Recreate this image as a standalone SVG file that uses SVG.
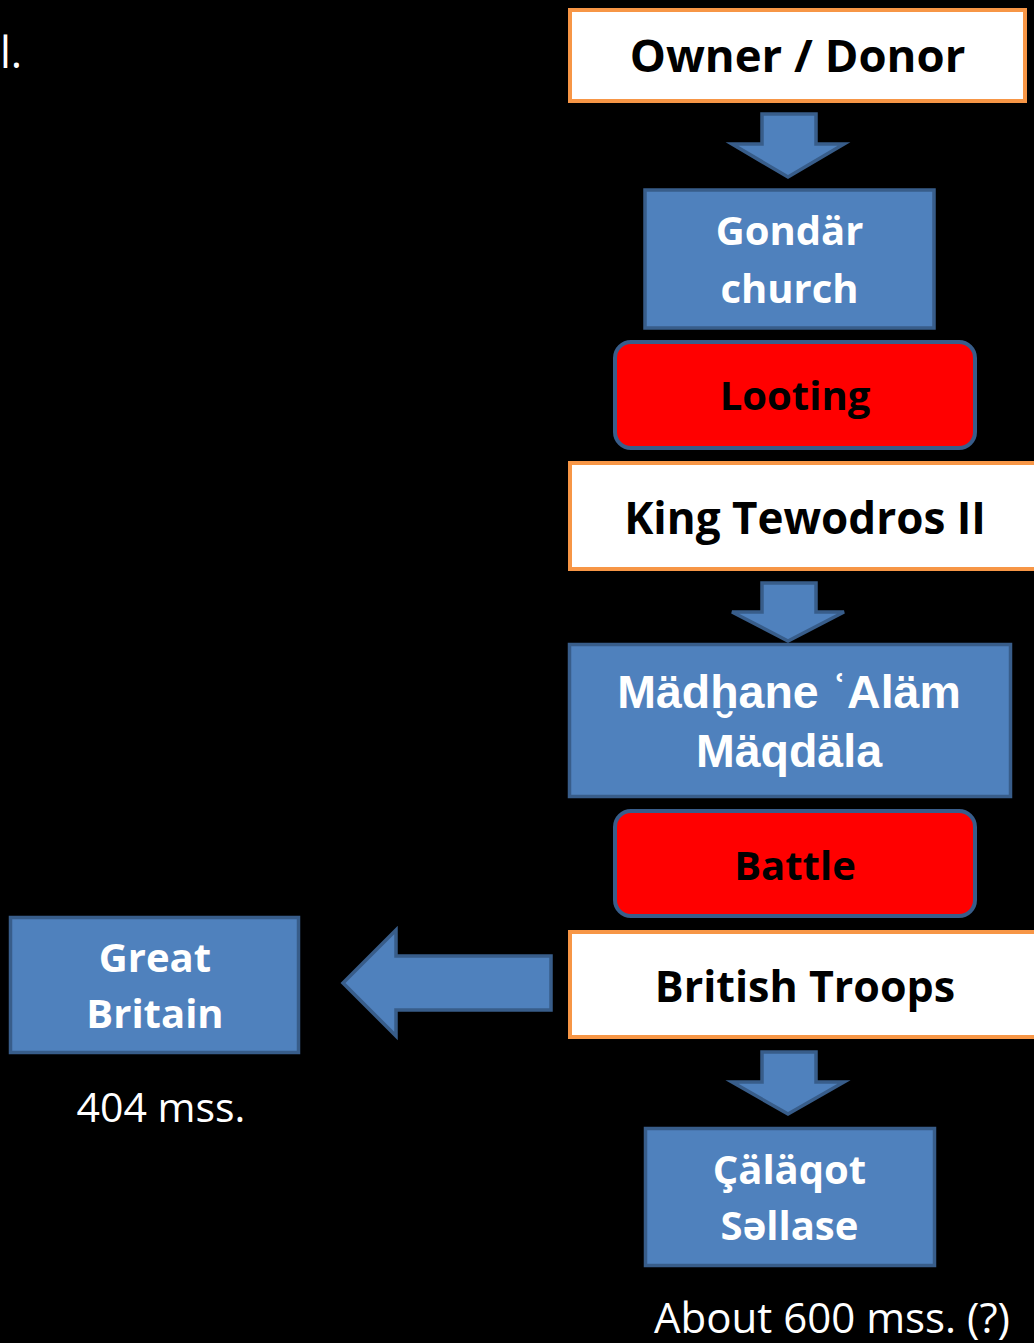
<svg xmlns="http://www.w3.org/2000/svg" width="1034" height="1343" viewBox="0 0 1034 1343">
<style>
.white{fill:#FFFFFF;stroke:#F79646;stroke-width:4}
.blue{fill:#4F81BD;stroke:#385D8A;stroke-width:3.5}
.red{fill:#FF0000;stroke:#385D8A;stroke-width:4}
.arrow{fill:#4F81BD;stroke:#385D8A;stroke-width:3.5;stroke-linejoin:miter}
.tb{font-family:"Open Sans","Noto Sans",sans-serif;font-weight:bold;text-anchor:middle}
.tk{fill:#000000}
.tw{fill:#FFFFFF}
.tr{font-family:"Open Sans","Noto Sans",sans-serif;fill:#FFFFFF}
</style>
<rect x="0" y="0" width="1034" height="1343" fill="#000000"/>
<text class="tr" x="0" y="68" font-size="43">l.</text>
<g id="connectors">
<polygon class="arrow" points="762,114 816,114 816,144 844,144 788,177 732,144 762,144"/>
<polygon class="arrow" points="762,583 816,583 816,612 844,612 788,641 732,612 762,612"/>
<polygon class="arrow" points="762,1052 816,1052 816,1082 844,1082 788,1114 732,1082 762,1082"/>
<polygon class="arrow" points="551,956 551,1010 396,1010 396,1036 343,983 396,930 396,956"/>
</g>
<g id="owner">
<rect class="white" x="570" y="10" width="455" height="91"/>
<text class="tb tk" x="797.5" y="72" font-size="45.5">Owner / Donor</text>
</g>
<g id="gondar">
<rect class="blue" x="645" y="190" width="289" height="138"/>
<text class="tb tw" x="789.5" y="245" font-size="40">Gondär</text>
<text class="tb tw" x="789.5" y="303" font-size="40">church</text>
</g>
<g id="looting">
<rect class="red" x="615" y="342" width="360" height="106" rx="16"/>
<text class="tb tk" x="795" y="410" font-size="40">Looting</text>
</g>
<g id="tewodros">
<rect class="white" x="570" y="463" width="470" height="106"/>
<text class="tb tk" x="805" y="534" font-size="44">King Tewodros II</text>
</g>
<g id="madhane">
<rect class="blue" x="569.5" y="644.5" width="441" height="152"/>
<text x="789" y="708" font-size="46.5" font-family="'Liberation Sans','DejaVu Sans',sans-serif" font-weight="bold" fill="#FFFFFF" text-anchor="middle">Mädḫane ʿAläm</text>
<text x="789" y="767" font-size="46.5" font-family="'Liberation Sans','DejaVu Sans',sans-serif" font-weight="bold" fill="#FFFFFF" text-anchor="middle">Mäqdäla</text>
</g>
<g id="battle">
<rect class="red" x="615" y="811" width="360" height="105" rx="16"/>
<text class="tb tk" x="795" y="880" font-size="40">Battle</text>
</g>
<g id="british">
<rect class="white" x="570" y="932" width="470" height="105"/>
<text class="tb tk" x="805" y="1002" font-size="43">British Troops</text>
</g>
<g id="greatbritain">
<rect class="blue" x="10.5" y="917.5" width="288" height="135"/>
<text class="tb tw" x="155" y="972" font-size="40">Great</text>
<text class="tb tw" x="155" y="1028" font-size="40">Britain</text>
</g>
<g id="calaqot">
<rect class="blue" x="645.5" y="1128.5" width="289" height="137"/>
<text class="tb tw" x="789.5" y="1184" font-size="40">Çäläqot</text>
<text class="tb tw" x="789.5" y="1240" font-size="40">Səllase</text>
</g>
<text class="tr" x="161" y="1122" font-size="41" text-anchor="middle">404 mss.</text>
<text class="tr" x="832" y="1333" font-size="42" text-anchor="middle">About 600 mss. (?)</text>
</svg>
